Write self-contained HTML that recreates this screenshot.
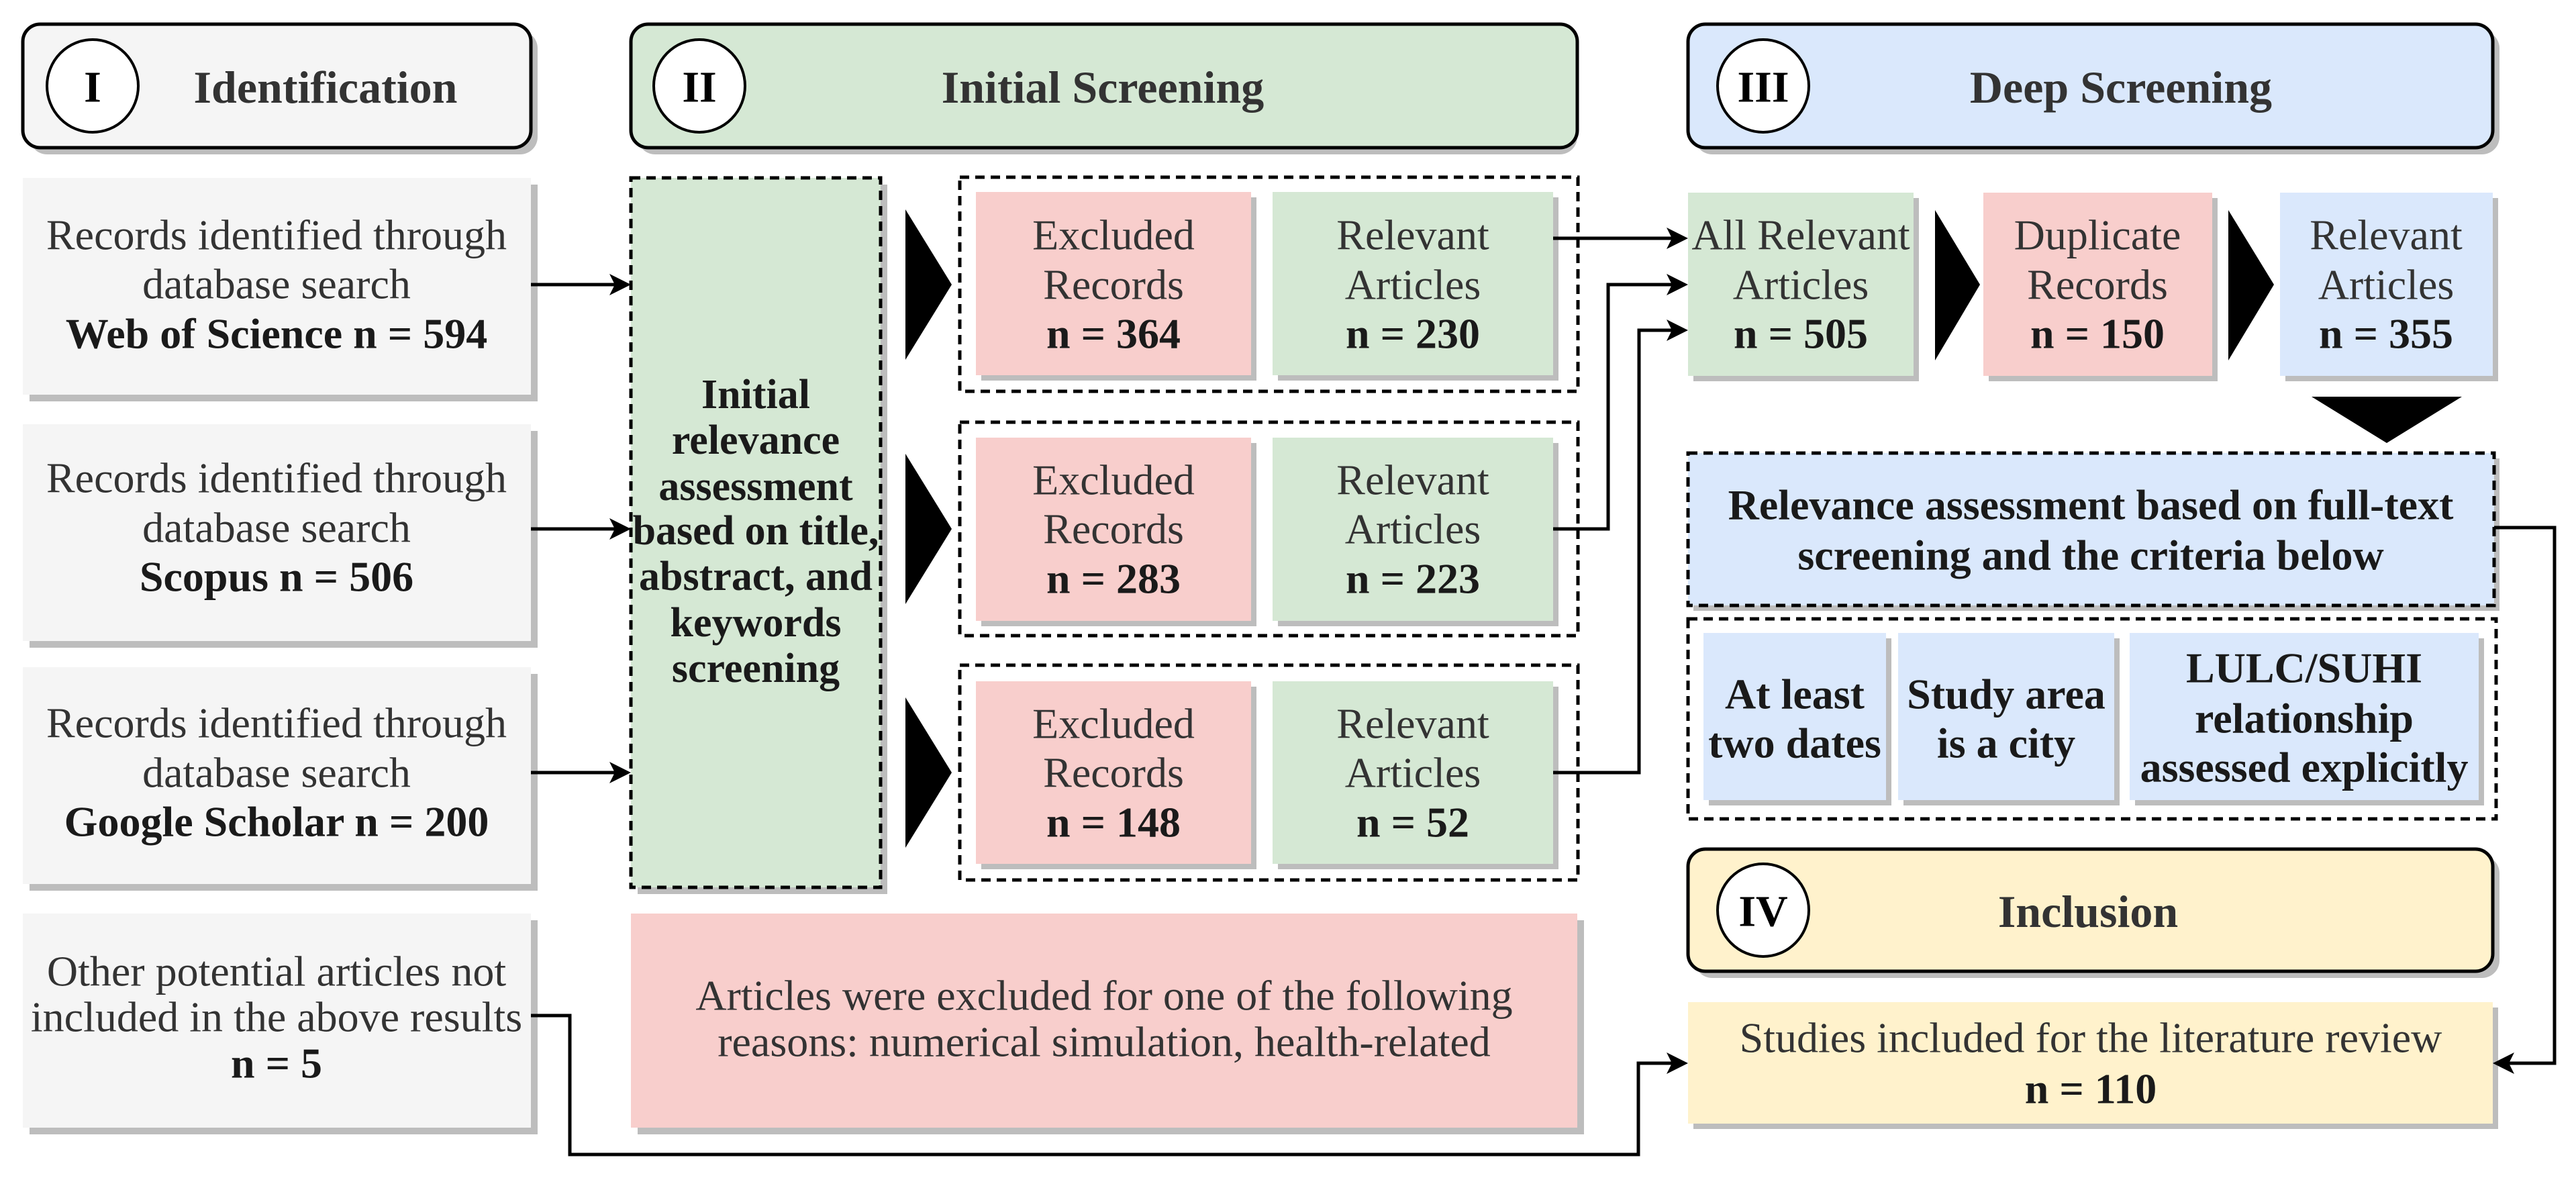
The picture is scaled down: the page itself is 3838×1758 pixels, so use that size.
<!DOCTYPE html>
<html><head><meta charset="utf-8"><style>html,body{margin:0;padding:0;background:#fff}svg{display:block}</style></head>
<body>
<svg width="3838" height="1758" viewBox="0 0 3838 1758" xmlns="http://www.w3.org/2000/svg" font-family="'Liberation Serif', serif">
<style>
text{font-family:"Liberation Serif",serif}
.n{font-size:64px;fill:#333;text-anchor:middle;dominant-baseline:central}
.b{font-size:64px;fill:#1a1a1a;font-weight:bold;text-anchor:middle;dominant-baseline:central}
.bs{font-size:62px;fill:#1a1a1a;font-weight:bold;text-anchor:middle;dominant-baseline:central}
.h{font-size:68px;fill:#333;font-weight:bold;text-anchor:middle;dominant-baseline:central}
.c{font-size:66px;fill:#000;font-weight:bold;text-anchor:middle;dominant-baseline:central}
.sh{fill:#bdbdbd}
.dash{fill:none;stroke:#000;stroke-width:5;stroke-dasharray:14 9}
.ln{fill:none;stroke:#000;stroke-width:5}
</style>

<g>
<rect x="44" y="46" width="757" height="184" rx="26" class="sh"/>
<rect x="34" y="36" width="757" height="184" rx="26" fill="#f5f5f5" stroke="#000" stroke-width="5"/>
<ellipse cx="138" cy="128" rx="68" ry="69" fill="#fff" stroke="#000" stroke-width="4"/>
<text x="138" y="130" class="c">I</text>
<text x="485" y="130" class="h">Identification</text>

<rect x="950" y="46" width="1400" height="184" rx="26" class="sh"/>
<rect x="940" y="36" width="1410" height="184" rx="26" fill="#d5e8d4" stroke="#000" stroke-width="5"/>
<ellipse cx="1042" cy="128" rx="68" ry="69" fill="#fff" stroke="#000" stroke-width="4"/>
<text x="1042" y="130" class="c">II</text>
<text x="1643" y="130" class="h">Initial Screening</text>

<rect x="2525" y="46" width="1199" height="184" rx="26" class="sh"/>
<rect x="2515" y="36" width="1199" height="184" rx="26" fill="#dae8fc" stroke="#000" stroke-width="5"/>
<ellipse cx="2627" cy="128" rx="68" ry="69" fill="#fff" stroke="#000" stroke-width="4"/>
<text x="2627" y="130" class="c">III</text>
<text x="3160" y="130" class="h">Deep Screening</text>

<rect x="2525" y="1275" width="1199" height="182" rx="26" class="sh"/>
<rect x="2515" y="1265" width="1199" height="182" rx="26" fill="#fff2cc" stroke="#000" stroke-width="5"/>
<ellipse cx="2627" cy="1356" rx="68" ry="69" fill="#fff" stroke="#000" stroke-width="4"/>
<text x="2627" y="1358" class="c">IV</text>
<text x="3111" y="1358" class="h">Inclusion</text>
</g>

<g>
<rect x="44" y="275" width="757" height="323" class="sh"/>
<rect x="34" y="265" width="757" height="323" fill="#f5f5f5"/>
<text x="412" y="350" class="n">Records identified through</text>
<text x="412" y="423" class="n">database search</text>
<text x="412" y="497" class="b">Web of Science n = 594</text>

<rect x="44" y="642" width="757" height="323" class="sh"/>
<rect x="34" y="632" width="757" height="323" fill="#f5f5f5"/>
<text x="412" y="712" class="n">Records identified through</text>
<text x="412" y="786" class="n">database search</text>
<text x="412" y="859" class="b">Scopus n = 506</text>

<rect x="44" y="1004" width="757" height="323" class="sh"/>
<rect x="34" y="994" width="757" height="323" fill="#f5f5f5"/>
<text x="412" y="1077" class="n">Records identified through</text>
<text x="412" y="1151" class="n">database search</text>
<text x="412" y="1224" class="b">Google Scholar n = 200</text>

<rect x="44" y="1371" width="757" height="319" class="sh"/>
<rect x="34" y="1361" width="757" height="319" fill="#f5f5f5"/>
<text x="412" y="1447" class="n">Other potential articles not</text>
<text x="412" y="1515" class="n">included in the above results</text>
<text x="412" y="1584" class="b">n = 5</text>
</g>

<rect x="950" y="275" width="372" height="1057" class="sh"/>
<rect x="940" y="265" width="372" height="1057" class="dash" style="fill:#d5e8d4"/>
<g>
<text x="1126" y="588" class="bs">Initial</text>
<text x="1126" y="656" class="bs">relevance</text>
<text x="1126" y="725" class="bs">assessment</text>
<text x="1126" y="791" class="bs">based on title,</text>
<text x="1126" y="859" class="bs">abstract, and</text>
<text x="1126" y="928" class="bs">keywords</text>
<text x="1126" y="996" class="bs">screening</text>
</g>

<polygon points="1349,312 1418,424 1349,536" fill="#000"/>
<polygon points="1349,676 1418,788 1349,900" fill="#000"/>
<polygon points="1349,1039 1418,1151 1349,1263" fill="#000"/>
<polygon points="2883,313 2950,424 2883,537" fill="#000"/>
<polygon points="3320,313 3388,424 3320,537" fill="#000"/>
<polygon points="3444,591 3668,591 3556,660" fill="#000"/>

<g>
<rect x="1430" y="264" width="921" height="319" class="dash"/>
<rect x="1462" y="294" width="410" height="273" class="sh"/>
<rect x="1454" y="286" width="410" height="273" fill="#f8cecc"/>
<rect x="1904" y="294" width="418" height="273" class="sh"/>
<rect x="1896" y="286" width="418" height="273" fill="#d5e8d4"/>
<text x="1659" y="350" class="n">Excluded</text><text x="1659" y="424" class="n">Records</text><text x="1659" y="497" class="b">n = 364</text>
<text x="2105" y="350" class="n">Relevant</text><text x="2105" y="424" class="n">Articles</text><text x="2105" y="497" class="b">n = 230</text>

<rect x="1430" y="629" width="921" height="318" class="dash"/>
<rect x="1462" y="660" width="410" height="273" class="sh"/>
<rect x="1454" y="652" width="410" height="273" fill="#f8cecc"/>
<rect x="1904" y="660" width="418" height="273" class="sh"/>
<rect x="1896" y="652" width="418" height="273" fill="#d5e8d4"/>
<text x="1659" y="715" class="n">Excluded</text><text x="1659" y="788" class="n">Records</text><text x="1659" y="862" class="b">n = 283</text>
<text x="2105" y="715" class="n">Relevant</text><text x="2105" y="788" class="n">Articles</text><text x="2105" y="862" class="b">n = 223</text>

<rect x="1430" y="991" width="921" height="320" class="dash"/>
<rect x="1462" y="1023" width="410" height="272" class="sh"/>
<rect x="1454" y="1015" width="410" height="272" fill="#f8cecc"/>
<rect x="1904" y="1023" width="418" height="272" class="sh"/>
<rect x="1896" y="1015" width="418" height="272" fill="#d5e8d4"/>
<text x="1659" y="1078" class="n">Excluded</text><text x="1659" y="1151" class="n">Records</text><text x="1659" y="1225" class="b">n = 148</text>
<text x="2105" y="1078" class="n">Relevant</text><text x="2105" y="1151" class="n">Articles</text><text x="2105" y="1225" class="b">n = 52</text>
</g>

<rect x="950" y="1371" width="1410" height="319" class="sh"/>
<rect x="940" y="1361" width="1410" height="319" fill="#f8cecc"/>
<text x="1645" y="1483" class="n">Articles were excluded for one of the following</text>
<text x="1645" y="1552" class="n">reasons: numerical simulation, health-related</text>

<rect x="2523" y="295" width="336" height="273" class="sh"/>
<rect x="2515" y="287" width="336" height="273" fill="#d5e8d4"/>
<text x="2683" y="350" class="n">All Relevant</text><text x="2683" y="424" class="n">Articles</text><text x="2683" y="497" class="b">n = 505</text>
<rect x="2963" y="295" width="341" height="273" class="sh"/>
<rect x="2955" y="287" width="341" height="273" fill="#f8cecc"/>
<text x="3125" y="350" class="n">Duplicate</text><text x="3125" y="424" class="n">Records</text><text x="3125" y="497" class="b">n = 150</text>
<rect x="3405" y="295" width="317" height="273" class="sh"/>
<rect x="3397" y="287" width="317" height="273" fill="#dae8fc"/>
<text x="3555" y="350" class="n">Relevant</text><text x="3555" y="424" class="n">Articles</text><text x="3555" y="497" class="b">n = 355</text>

<rect x="2523" y="683" width="1201" height="227" class="sh"/>
<rect x="2515" y="675" width="1201" height="227" fill="#dae8fc"/>
<rect x="2515" y="675" width="1201" height="227" class="dash"/>
<text x="3115" y="752" class="b">Relevance assessment based on full-text</text>
<text x="3115" y="827" class="b">screening and the criteria below</text>

<rect x="2515" y="922" width="1204" height="298" class="dash"/>
<rect x="2546" y="951" width="272" height="249" class="sh"/>
<rect x="2538" y="943" width="272" height="249" fill="#dae8fc"/>
<text x="2674" y="1034" class="b">At least</text><text x="2674" y="1107" class="b">two dates</text>
<rect x="2836" y="951" width="322" height="249" class="sh"/>
<rect x="2828" y="943" width="322" height="249" fill="#dae8fc"/>
<text x="2989" y="1034" class="b">Study area</text><text x="2989" y="1107" class="b">is a city</text>
<rect x="3181" y="951" width="520" height="249" class="sh"/>
<rect x="3173" y="943" width="520" height="249" fill="#dae8fc"/>
<text x="3433" y="995" class="b">LULC/SUHI</text><text x="3433" y="1070" class="b">relationship</text><text x="3433" y="1143" class="b">assessed explicitly</text>

<rect x="2523" y="1501" width="1199" height="181" class="sh"/>
<rect x="2515" y="1493" width="1199" height="181" fill="#fff2cc"/>
<text x="3115" y="1546" class="n">Studies included for the literature review</text>
<text x="3115" y="1622" class="b">n = 110</text>

<g class="ln">
<polyline points="791,424 920,424"/>
<polyline points="791,788 920,788"/>
<polyline points="791,1151 920,1151"/>
<polyline points="2314,355 2495,355"/>
<polyline points="2314,788 2396,788 2396,424 2495,424"/>
<polyline points="2314,1151 2442,1151 2442,492 2495,492"/>
<polyline points="791,1513 849,1513 849,1720 2441,1720 2441,1584 2495,1584"/>
<polyline points="3716,786 3806,786 3806,1584 3736,1584"/>
</g>
<g fill="#000">
<polygon points="940,424 908,408 916,424 908,440"/>
<polygon points="940,788 908,772 916,788 908,804"/>
<polygon points="940,1151 908,1135 916,1151 908,1167"/>
<polygon points="2515,355 2483,339 2491,355 2483,371"/>
<polygon points="2515,424 2483,408 2491,424 2483,440"/>
<polygon points="2515,492 2483,476 2491,492 2483,508"/>
<polygon points="2515,1584 2483,1568 2491,1584 2483,1600"/>
<polygon points="3714,1584 3746,1568 3738,1584 3746,1600"/>
</g>
</svg>
</body></html>
